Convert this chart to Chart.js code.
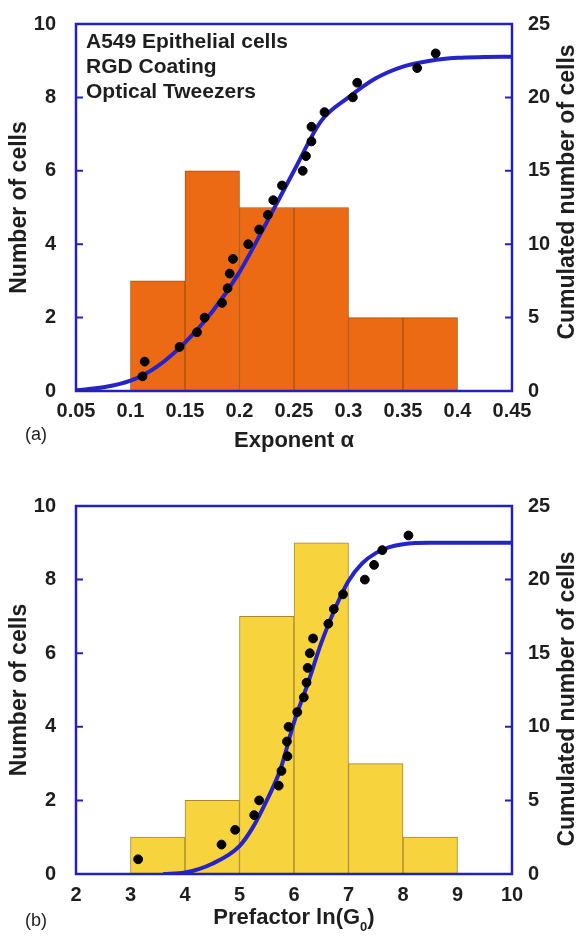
<!DOCTYPE html>
<html>
<head>
<meta charset="utf-8">
<title>Exponent and prefactor distributions</title>
<script src="https://cdn.jsdelivr.net/npm/chart.js@4.4.1/dist/chart.umd.min.js"></script>
<style>
  body { margin: 0; background: #fff; }
  canvas { position: absolute; left: 0; }
  #chartA { top: 0; }
  #chartB { top: 469px; }
</style>
</head>
<body>
<canvas id="chartA" width="578" height="469"></canvas>
<canvas id="chartB" width="578" height="469"></canvas>
<script>
// panel (a) - exponent alpha
const alphaBinEdges = [0.1, 0.15, 0.2, 0.25, 0.3, 0.35, 0.4];
const alphaCounts = [3, 6, 5, 5, 2, 2];
const alphaCells = [0.111, 0.113, 0.145, 0.161, 0.168, 0.184, 0.189, 0.191, 0.194, 0.208, 0.218, 0.226,
                    0.231, 0.239, 0.258, 0.261, 0.266, 0.266, 0.278, 0.304, 0.308, 0.363, 0.380];
const alphaCumulated = [1, 2, 3, 4, 5, 6, 7, 8, 9, 10, 11, 12, 13, 14, 15, 16, 17, 18, 19, 20, 21, 22, 23];
const alphaFitX = [0.05, 0.075, 0.1, 0.125, 0.15, 0.175, 0.2, 0.225, 0.25, 0.275, 0.3, 0.325, 0.35, 0.375, 0.4, 0.425, 0.45];
const alphaFitY = [0.05, 0.25, 0.7, 1.7, 3.3, 5.4, 8.1, 11.5, 15.0, 18.4, 20.0, 21.3, 22.1, 22.5, 22.7, 22.75, 22.77];
const alphaTicks = [0.05, 0.1, 0.15, 0.2, 0.25, 0.3, 0.35, 0.4, 0.45];

// panel (b) - prefactor ln(G0)
const lnGBinEdges = [3, 4, 5, 6, 7, 8, 9];
const lnGCounts = [1, 2, 7, 9, 3, 1];
const lnGCells = [3.14, 4.67, 4.92, 5.27, 5.36, 5.72, 5.77, 5.88, 5.87, 5.90, 6.06, 6.18,
                  6.23, 6.25, 6.29, 6.35, 6.63, 6.73, 6.90, 7.30, 7.47, 7.62, 8.10];
const lnGCumulated = [1, 2, 3, 4, 5, 6, 7, 8, 9, 10, 11, 12, 13, 14, 15, 16, 17, 18, 19, 20, 21, 22, 23];
const lnGFitX = [3.6, 4.0, 4.5, 5.0, 5.25, 5.5, 5.75, 6.0, 6.25, 6.5, 6.75, 7.0, 7.25, 7.5, 7.75, 8.0, 8.5, 10];
const lnGFitY = [0, 0.1, 0.7, 1.9, 3.2, 5.0, 7.1, 10.3, 12.9, 15.7, 18.0, 19.9, 21.1, 21.8, 22.2, 22.4, 22.5, 22.5];
const lnGTicks = [2, 3, 4, 5, 6, 7, 8, 9, 10];

const countTicks = [0, 2, 4, 6, 8, 10];
const cumulTicks = [0, 5, 10, 15, 20, 25];

const axisBlue = '#2222b8';
const curveBlue = '#2424c8';
const textColor = '#1e1e1e';
const fontFamily = '"Liberation Sans", Arial, Helvetica, sans-serif';

Chart.defaults.font.family = fontFamily;
Chart.defaults.color = textColor;

// frame around plot area + ticks pointing inwards
const framePlugin = {
  id: 'frame',
  afterDatasetsDraw(chart) {
    const { ctx, chartArea: a, scales } = chart;
    ctx.save();
    ctx.strokeStyle = axisBlue;
    ctx.lineWidth = 2.5;
    ctx.strokeRect(a.left, a.top, a.width, a.height);
    ctx.lineWidth = 2;
    ctx.beginPath();
    scales.y.ticks.forEach(t => {
      const py = scales.y.getPixelForValue(t.value);
      ctx.moveTo(a.left, py); ctx.lineTo(a.left + 7, py);
    });
    scales.y2.ticks.forEach(t => {
      const py = scales.y2.getPixelForValue(t.value);
      ctx.moveTo(a.right, py); ctx.lineTo(a.right - 7, py);
    });
    ctx.stroke();
    ctx.restore();
  }
};

// axis titles, panel letter, annotation
const textPlugin = {
  id: 'panelText',
  afterDraw(chart, args, opts) {
    const { ctx, chartArea: a } = chart;
    const midY = (a.top + a.bottom) / 2;
    ctx.save();
    ctx.fillStyle = textColor;
    ctx.textBaseline = 'middle';
    ctx.textAlign = 'center';

    ctx.save();
    ctx.font = 'bold 23px ' + fontFamily;
    ctx.translate(20, midY);
    ctx.rotate(-Math.PI / 2);
    ctx.fillText('Number of cells', 0, 0);
    ctx.restore();

    ctx.save();
    ctx.font = 'bold 23px ' + fontFamily;
    ctx.translate(568, opts.rightTitleY);
    ctx.rotate(-Math.PI / 2);
    ctx.fillText('Cumulated number of cells', 0, 0);
    ctx.restore();

    // x title, with optional subscript
    ctx.font = 'bold 22px ' + fontFamily;
    const cx = (a.left + a.right) / 2;
    if (opts.xSub) {
      const w1 = ctx.measureText(opts.xTitle).width;
      ctx.font = 'bold 13px ' + fontFamily;
      const w2 = ctx.measureText(opts.xSub).width;
      ctx.font = 'bold 22px ' + fontFamily;
      const w3 = ctx.measureText(opts.xEnd).width;
      let x0 = cx - (w1 + w2 + w3) / 2;
      ctx.textAlign = 'left';
      ctx.fillText(opts.xTitle, x0, opts.xTitleY);
      ctx.font = 'bold 13px ' + fontFamily;
      ctx.fillText(opts.xSub, x0 + w1, opts.xTitleY + 9);
      ctx.font = 'bold 22px ' + fontFamily;
      ctx.fillText(opts.xEnd, x0 + w1 + w2, opts.xTitleY);
    } else {
      ctx.fillText(opts.xTitle, cx, opts.xTitleY);
    }

    ctx.textAlign = 'left';
    ctx.font = '18px ' + fontFamily;
    ctx.fillText(opts.panel, 25, opts.panelY);

    if (opts.lines) {
      ctx.font = 'bold 21px ' + fontFamily;
      opts.lines.forEach((s, i) => ctx.fillText(s, 86, 42 + i * 25));
    }
    ctx.restore();
  }
};

function makePanel(id, cfg) {
  const bars = cfg.counts.map((c, i) => ({ x: (cfg.edges[i] + cfg.edges[i + 1]) / 2, y: c }));
  const cells = cfg.cells.map((v, i) => ({ x: v, y: cfg.cumul[i] }));
  const fit = cfg.fitX.map((v, i) => ({ x: v, y: cfg.fitY[i] }));
  const tickList = cfg.ticks;

  return new Chart(document.getElementById(id), {
    type: 'bar',
    data: {
      datasets: [
        {
          type: 'scatter',
          data: cells,
          yAxisID: 'y2',
          backgroundColor: '#000',
          borderColor: '#000',
          pointRadius: 4.4,
          order: 1
        },
        {
          type: 'line',
          data: fit,
          yAxisID: 'y2',
          borderColor: curveBlue,
          borderWidth: 4,
          pointRadius: 0,
          cubicInterpolationMode: 'monotone',
          fill: false,
          order: 2
        },
        {
          type: 'bar',
          data: bars,
          yAxisID: 'y',
          backgroundColor: cfg.barColor,
          borderColor: cfg.barEdge,
          borderWidth: 1,
          barPercentage: 1,
          categoryPercentage: 1,
          order: 3
        }
      ]
    },
    options: {
      responsive: false,
      animation: false,
      events: [],
      layout: { padding: { top: cfg.padTop, left: 0, right: 0, bottom: 0 } },
      plugins: {
        legend: { display: false },
        tooltip: { enabled: false },
        panelText: cfg.text
      },
      scales: {
        x: {
          type: 'linear',
          offset: false,
          min: tickList[0],
          max: tickList[tickList.length - 1],
          afterBuildTicks: s => { s.ticks = tickList.map(v => ({ value: v })); },
          afterFit: s => { s.height = cfg.xHeight; },
          grid: { display: false },
          border: { display: false },
          ticks: {
            padding: cfg.xPad,
            font: { size: 20, weight: 'bold' },
            color: textColor,
            maxRotation: 0,
            autoSkip: false,
            callback: v => String(v)
          }
        },
        y: {
          position: 'left',
          min: 0,
          max: 10,
          afterBuildTicks: s => { s.ticks = countTicks.map(v => ({ value: v })); },
          afterFit: s => { s.width = 76; },
          grid: { display: false },
          border: { display: false },
          ticks: { padding: 12, font: { size: 20, weight: 'bold' }, color: textColor }
        },
        y2: {
          position: 'right',
          min: 0,
          max: 25,
          afterBuildTicks: s => { s.ticks = cumulTicks.map(v => ({ value: v })); },
          afterFit: s => { s.width = 66; },
          grid: { display: false },
          border: { display: false },
          ticks: { padding: 8, font: { size: 20, weight: 'bold' }, color: textColor }
        }
      }
    },
    plugins: [framePlugin, textPlugin]
  });
}

makePanel('chartA', {
  edges: alphaBinEdges, counts: alphaCounts,
  cells: alphaCells, cumul: alphaCumulated,
  fitX: alphaFitX, fitY: alphaFitY, ticks: alphaTicks,
  barColor: '#ec6a14', barEdge: '#a9500f',
  padTop: 20, xHeight: 78, xPad: 0,
  text: {
    xTitle: 'Exponent \u03b1', xTitleY: 441,
    panel: '(a)', panelY: 435, rightTitleY: 192,
    lines: ['A549 Epithelial cells', 'RGD Coating', 'Optical Tweezers']
  }
});

makePanel('chartB', {
  edges: lnGBinEdges, counts: lnGCounts,
  cells: lnGCells, cumul: lnGCumulated,
  fitX: lnGFitX, fitY: lnGFitY, ticks: lnGTicks,
  barColor: '#f7d33d', barEdge: '#a8892e',
  padTop: 37, xHeight: 64, xPad: 1,
  text: {
    xTitle: 'Prefactor ln(G', xSub: '0', xEnd: ')', xTitleY: 449,
    panel: '(b)', panelY: 452, rightTitleY: 230
  }
});
</script>
</body>
</html>
